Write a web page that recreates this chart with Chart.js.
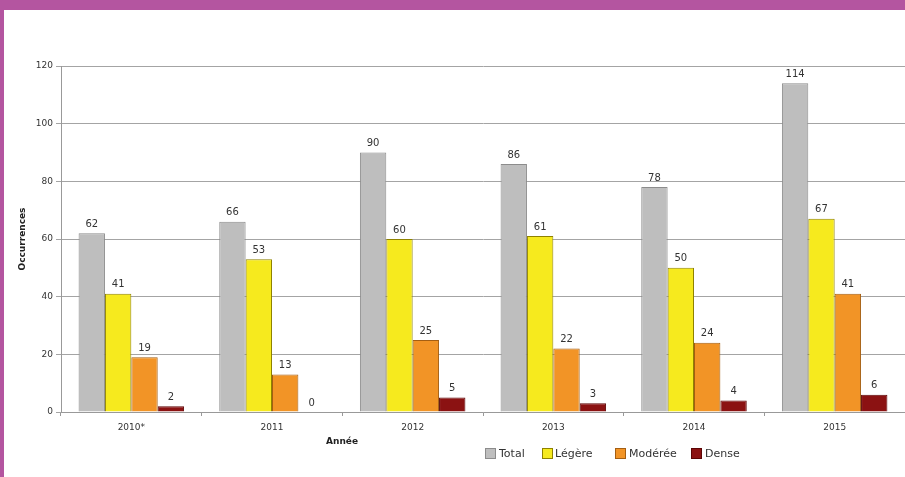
<!DOCTYPE html>
<html>
<head>
<meta charset="utf-8">
<script src="https://cdn.jsdelivr.net/npm/chart.js@4.4.0/dist/chart.umd.min.js"></script>
<style>
  html, body { margin:0; padding:0; background:#fff; }
  #wrap { position:relative; width:905px; height:477px; overflow:hidden; }
  #topband { position:absolute; left:0; top:0; width:905px; height:10px; background:#B455A0; }
  #leftband { position:absolute; left:0; top:0; width:4px; height:477px; background:#B455A0; }
  canvas { position:absolute; left:0; top:0; }
</style>
</head>
<body>
<div id="wrap">
  <canvas id="c" width="905" height="477"></canvas>
  <div id="topband"></div>
  <div id="leftband"></div>
</div>
<script>
const categories = ["2010*", "2011", "2012", "2013", "2014", "2015"];
const seriesNames = ["Total", "Légère", "Modérée", "Dense"];
const totalValues = [62, 66, 90, 86, 78, 114];
const legereValues = [41, 53, 60, 61, 50, 67];
const modereeValues = [19, 13, 25, 22, 24, 41];
const denseValues = [2, 0, 5, 3, 4, 6];
const yTicks = [0, 20, 40, 60, 80, 100, 120];
const xTitle = "Année";
const yTitle = "Occurrences";

const fills = ["#BEBEBE", "#F6EA1E", "#F29426", "#8B1212"];
const borders = ["#8C8C8C", "#8F8200", "#A45E12", "#5C0505"];
const allValues = [totalValues, legereValues, modereeValues, denseValues];

const FONT = "'DejaVu Sans', Verdana, sans-serif";

const overlay = {
  id: "overlay",
  afterDatasetsDraw(chart) {
    const ctx = chart.ctx;
    ctx.save();
    // data labels
    ctx.font = "10px " + FONT;
    ctx.fillStyle = "#333";
    ctx.textAlign = "center";
    ctx.textBaseline = "bottom";
    chart.data.datasets.forEach((ds, i) => {
      const meta = chart.getDatasetMeta(i);
      meta.data.forEach((bar, j) => {
        ctx.fillText(String(ds.data[j]), bar.x, bar.y - 4);
      });
    });
    // x title
    ctx.font = "bold 9px " + FONT;
    ctx.fillStyle = "#222";
    ctx.textBaseline = "middle";
    ctx.fillText(xTitle, 342, 442);
    // y title
    ctx.save();
    ctx.translate(23, (chart.chartArea.top + chart.chartArea.bottom) / 2);
    ctx.rotate(-Math.PI / 2);
    ctx.fillText(yTitle, 0, 0);
    ctx.restore();
    // legend
    const items = [
      {x: 485, tx: 499},
      {x: 542, tx: 555},
      {x: 615, tx: 629},
      {x: 691, tx: 705}
    ];
    ctx.font = "11px " + FONT;
    ctx.textAlign = "left";
    ctx.textBaseline = "middle";
    items.forEach((it, i) => {
      ctx.fillStyle = fills[i];
      ctx.fillRect(it.x, 448, 11, 11);
      ctx.strokeStyle = borders[i];
      ctx.lineWidth = 1;
      ctx.strokeRect(it.x + 0.5, 448.5, 10, 10);
      ctx.fillStyle = "#333";
      ctx.fillText(seriesNames[i], it.tx, 454);
    });
    ctx.restore();
  }
};

new Chart(document.getElementById("c"), {
  type: "bar",
  data: {
    labels: categories,
    datasets: seriesNames.map((n, i) => ({
      label: n,
      data: allValues[i],
      backgroundColor: fills[i],
      borderColor: borders[i],
      borderWidth: 1,
      categoryPercentage: 0.75,
      barPercentage: 1.0
    }))
  },
  options: {
    responsive: false,
    animation: false,
    devicePixelRatio: 1,
    layout: { padding: { left: 0, right: 0, top: 66, bottom: 0 } },
    plugins: { legend: { display: false }, tooltip: { enabled: false } },
    scales: {
      x: {
        grid: { offset: true, drawOnChartArea: false, drawTicks: true, tickLength: 4, color: "#999" },
        border: { display: true, color: "#999", width: 1 },
        ticks: { color: "#333", font: { family: FONT, size: 9 }, padding: 6 },
        afterFit(s) { s.height = 65; }
      },
      y: {
        min: 0, max: 120,
        afterBuildTicks(s) { s.ticks = yTicks.map(v => ({ value: v })); },
        grid: { color: "#A4A4A4", drawTicks: true, tickLength: 5, lineWidth: 1 },
        border: { display: true, color: "#999", width: 1 },
        ticks: { color: "#333", font: { family: FONT, size: 9 }, padding: 3 },
        afterFit(s) { s.width = 61; }
      }
    }
  },
  plugins: [overlay]
});
</script>
</body>
</html>
